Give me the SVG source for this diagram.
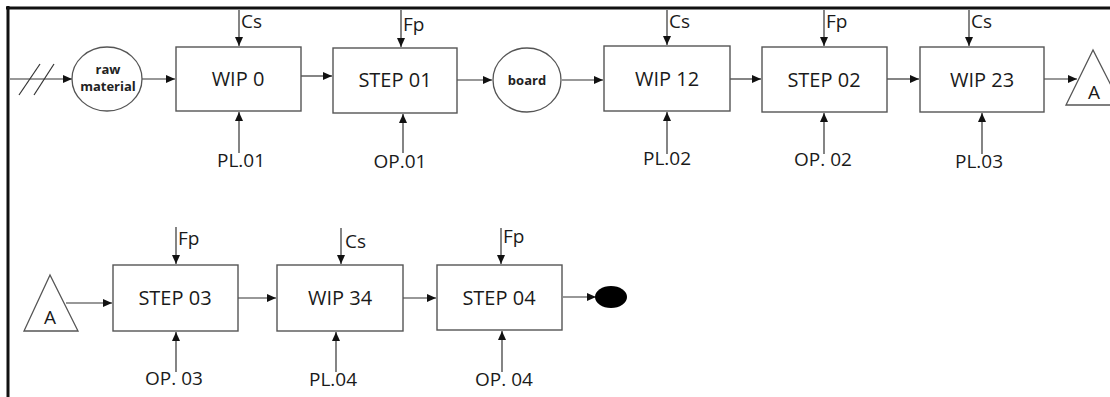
<svg xmlns="http://www.w3.org/2000/svg" width="1110" height="397" viewBox="0 0 1110 397">
<defs>
<marker id="ah" markerUnits="userSpaceOnUse" markerWidth="10" markerHeight="8" refX="9" refY="4" orient="auto">
<path d="M0,0 L9,4 L0,8 Z" fill="#111"/>
</marker>
<style>
.box{fill:#fff;stroke:#555;stroke-width:1.4}
.circ{fill:#fff;stroke:#555;stroke-width:1.3}
.lbl{font-family:"Open Sans","Liberation Sans",Arial,sans-serif;font-size:19px;fill:#1a1a1a}
.big{font-size:20px}
.mid{text-anchor:middle}
.sm{font-family:"Open Sans","Liberation Sans",Arial,sans-serif;font-size:13px;font-weight:bold;fill:#222;text-anchor:middle}
.ln{stroke:#333;stroke-width:1.2;fill:none}
.ar{stroke:#333;stroke-width:1.2;fill:none;marker-end:url(#ah)}
</style>
</defs>
<rect width="1110" height="397" fill="#fff"/>
<g id="frame">
<line x1="6" y1="8" x2="1110" y2="8" stroke="#111" stroke-width="3"/>
<line x1="8" y1="6" x2="8" y2="397" stroke="#111" stroke-width="3"/>
</g>
<g id="connectors">
<line class="ar" x1="10" y1="79" x2="72" y2="79"/>
<line class="ln" x1="19" y1="95" x2="40" y2="64"/>
<line class="ln" x1="34" y1="95" x2="54" y2="64"/>
<line class="ar" x1="142" y1="79" x2="175" y2="79"/>
<line class="ar" x1="239" y1="10" x2="239" y2="46"/>
<line class="ar" x1="239" y1="153" x2="239" y2="112"/>
<line class="ar" x1="301" y1="76" x2="332" y2="76"/>
<line class="ar" x1="401" y1="10" x2="401" y2="47"/>
<line class="ar" x1="403" y1="153" x2="403" y2="114"/>
<line class="ar" x1="457" y1="80" x2="492" y2="80"/>
<line class="ar" x1="562" y1="80" x2="603" y2="80"/>
<line class="ar" x1="667" y1="10" x2="667" y2="45"/>
<line class="ar" x1="667" y1="154" x2="667" y2="112"/>
<line class="ar" x1="730" y1="79" x2="761" y2="79"/>
<line class="ar" x1="824" y1="10" x2="824" y2="46"/>
<line class="ar" x1="824" y1="154" x2="824" y2="113"/>
<line class="ar" x1="887" y1="79" x2="919" y2="79"/>
<line class="ar" x1="969" y1="10" x2="969" y2="46"/>
<line class="ar" x1="982" y1="154" x2="982" y2="113"/>
<line class="ar" x1="1044" y1="79" x2="1077" y2="79"/>
<line class="ar" x1="66" y1="303" x2="112" y2="303"/>
<line class="ar" x1="176" y1="227" x2="176" y2="264"/>
<line class="ar" x1="176" y1="372" x2="176" y2="332"/>
<line class="ar" x1="238" y1="298" x2="276" y2="298"/>
<line class="ar" x1="341" y1="228" x2="341" y2="264"/>
<line class="ar" x1="336" y1="372" x2="336" y2="332"/>
<line class="ar" x1="403" y1="298" x2="436" y2="298"/>
<line class="ar" x1="501" y1="228" x2="501" y2="264"/>
<line class="ar" x1="502" y1="372" x2="502" y2="331"/>
<line class="ar" x1="563" y1="297" x2="596" y2="297"/>
</g>
<g id="raw-material">
<ellipse class="circ" cx="107" cy="79" rx="35" ry="32"/>
<text class="sm" x="108" y="74">raw</text>
<text class="sm" x="108" y="91">material</text>
</g>
<g id="wip0">
<rect class="box" x="176" y="47" width="125" height="64"/>
<text class="lbl big mid" x="238" y="86">WIP 0</text>
</g>
<g id="step01">
<rect class="box" x="333" y="48" width="124" height="65"/>
<text class="lbl big mid" x="395" y="87">STEP 01</text>
</g>
<g id="board">
<ellipse class="circ" cx="527" cy="80" rx="34" ry="32"/>
<text class="sm" x="527" y="85">board</text>
</g>
<g id="wip12">
<rect class="box" x="604" y="46" width="126" height="65"/>
<text class="lbl big mid" x="667" y="86">WIP 12</text>
</g>
<g id="step02">
<rect class="box" x="762" y="47" width="125" height="65"/>
<text class="lbl big mid" x="824" y="87">STEP 02</text>
</g>
<g id="wip23">
<rect class="box" x="920" y="47" width="124" height="65"/>
<text class="lbl big mid" x="982" y="87">WIP 23</text>
</g>
<g id="connector-a-out">
<polygon class="circ" points="1093,50 1066,105 1121,105"/>
<text class="lbl mid" x="1094" y="99">A</text>
</g>
<g id="connector-a-in">
<polygon class="circ" points="50,275 24,331 78,331"/>
<text class="lbl mid" x="50" y="324">A</text>
</g>
<g id="step03">
<rect class="box" x="113" y="265" width="125" height="66"/>
<text class="lbl big mid" x="175" y="305">STEP 03</text>
</g>
<g id="wip34">
<rect class="box" x="277" y="265" width="126" height="66"/>
<text class="lbl big mid" x="340" y="305">WIP 34</text>
</g>
<g id="step04">
<rect class="box" x="437" y="265" width="125" height="65"/>
<text class="lbl big mid" x="499" y="305">STEP 04</text>
</g>
<g id="end">
<ellipse cx="611" cy="297" rx="16" ry="11" fill="#000"/>
</g>
<g id="labels">
<text class="lbl" x="241" y="28">Cs</text>
<text class="lbl" x="403" y="31">Fp</text>
<text class="lbl" x="669" y="28">Cs</text>
<text class="lbl" x="826" y="28">Fp</text>
<text class="lbl" x="971" y="28">Cs</text>
<text class="lbl mid" x="241" y="167">PL.01</text>
<text class="lbl mid" x="400" y="168">OP.01</text>
<text class="lbl mid" x="667" y="165">PL.02</text>
<text class="lbl mid" x="823" y="166">OP. 02</text>
<text class="lbl mid" x="979" y="168">PL.03</text>
<text class="lbl" x="178" y="245">Fp</text>
<text class="lbl" x="345" y="248">Cs</text>
<text class="lbl" x="503" y="243">Fp</text>
<text class="lbl mid" x="174" y="385">OP. 03</text>
<text class="lbl mid" x="333" y="386">PL.04</text>
<text class="lbl mid" x="504" y="386">OP. 04</text>
</g>
</svg>
